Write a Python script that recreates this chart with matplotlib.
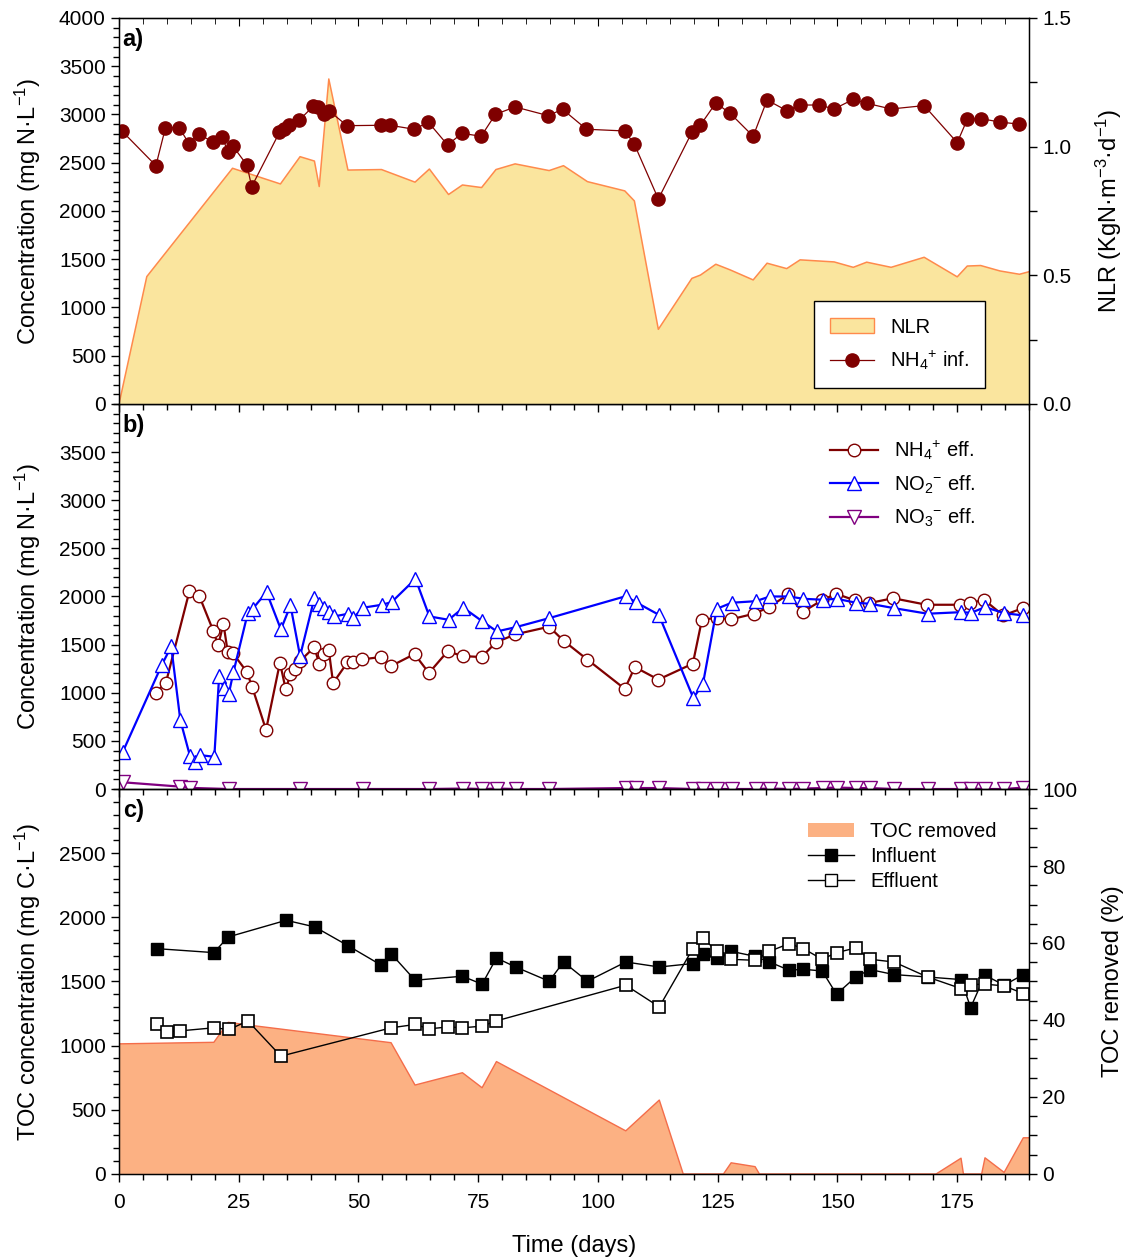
import matplotlib
matplotlib.use("Agg")
import matplotlib.pyplot as plt
from matplotlib.ticker import MultipleLocator, FormatStrFormatter
from matplotlib.patches import Patch
from matplotlib.lines import Line2D

plt.rcParams['font.family'] = ['Liberation Sans', 'DejaVu Sans']
plt.rcParams['mathtext.fontset'] = 'custom'
plt.rcParams['mathtext.rm'] = 'Liberation Sans'
plt.rcParams['mathtext.it'] = 'Liberation Sans:italic'
plt.rcParams['mathtext.bf'] = 'Liberation Sans:bold'

# ---- a) influent ammonium and nitrogen loading rate ----
day_inf = [0.6, 7.7, 9.7, 12.6, 14.6, 16.6, 19.6, 21.6, 22.7, 23.7, 26.7, 27.7, 33.5, 34.5,
           35.5, 37.6, 40.6, 41.6, 42.7, 43.8, 47.6, 54.6, 56.6, 61.6, 64.6, 68.6, 71.6, 75.6,
           78.6, 82.7, 89.6, 92.6, 97.6, 105.6, 107.6, 112.6, 119.6, 121.4, 124.6, 127.6,
           132.4, 135.3, 139.4, 142.2, 146.2, 149.3, 153.3, 156.1, 161.2, 168.1, 175.0,
           177.1, 179.9, 183.9, 188.0]
nh4_inf = [2829, 2470, 2863, 2863, 2697, 2798, 2715, 2763, 2615, 2677, 2477, 2252, 2815, 2847,
           2894, 2940, 3088, 3074, 3002, 3040, 2884, 2888, 2888, 2847, 2919, 2684, 2805, 2774,
           3002, 3078, 2988, 3054, 2847, 2829, 2691, 2124, 2815, 2891, 3119, 3012,
           2774, 3150, 3040, 3098, 3098, 3057, 3157, 3116, 3057, 3092, 2708,
           2950, 2957, 2922, 2899]

day_nlr = [0, 5.8, 23.7, 33.7, 37.8, 40.8, 41.8, 43.8, 47.8, 54.8, 61.8, 64.8, 68.8, 71.7,
           75.7, 78.7, 82.7, 89.8, 92.8, 97.8, 105.6, 107.6, 112.6, 119.6, 121.4, 124.6,
           127.6, 132.4, 135.3, 139.4, 142.2, 149.3, 153.3, 156.1, 161.2, 168.1, 175.0,
           177.1, 179.9, 183.9, 188.0, 190]
nlr = [0, 0.495, 0.916, 0.855, 0.961, 0.944, 0.845, 1.263, 0.909, 0.911, 0.862, 0.913, 0.814,
       0.851, 0.841, 0.911, 0.933, 0.907, 0.926, 0.864, 0.828, 0.789, 0.290, 0.488, 0.501,
       0.543, 0.521, 0.482, 0.547, 0.526, 0.560, 0.552, 0.531, 0.551, 0.531, 0.570, 0.494,
       0.536, 0.538, 0.517, 0.504, 0.514]

# ---- b) effluent nitrogen species ----
day_nh4e = [7.7, 9.8, 14.7, 16.8, 19.7, 20.7, 21.8, 22.7, 23.7, 26.7, 27.8, 30.7, 33.6, 34.8,
            35.8, 36.8, 37.8, 40.8, 41.8, 42.8, 43.8, 44.7, 47.7, 48.8, 50.8, 54.7, 56.7,
            61.7, 64.7, 68.6, 71.8, 75.7, 78.7, 82.7, 89.8, 92.8, 97.8, 105.6, 107.7, 112.6,
            119.8, 121.7, 124.8, 127.7, 132.6, 135.7, 139.7, 142.7, 146.7, 149.7, 153.7,
            156.6, 161.6, 168.6, 175.6, 177.7, 180.6, 184.6, 188.7]
nh4_eff = [1002, 1106, 2055, 2000, 1641, 1492, 1717, 1423, 1416, 1216, 1060, 614, 1313, 1036,
           1192, 1243, 1330, 1475, 1295, 1406, 1440, 1101, 1316, 1316, 1347, 1371, 1275,
           1402, 1205, 1430, 1381, 1371, 1523, 1606, 1686, 1541, 1344, 1040, 1267, 1137,
           1302, 1758, 1779, 1762, 1821, 1889, 2021, 1838, 1959, 2028, 1959,
           1931, 1982, 1914, 1914, 1931, 1966, 1803, 1879]

day_no2 = [0.8, 8.9, 10.9, 12.8, 14.8, 15.9, 16.9, 19.9, 20.9, 21.9, 22.9, 23.9, 26.9, 27.9,
           30.8, 33.8, 35.8, 37.8, 40.8, 41.8, 42.8, 43.8, 44.9, 47.9, 48.9, 50.9, 54.9,
           56.9, 61.9, 64.8, 68.8, 71.9, 75.8, 78.9, 82.9, 89.8, 105.8, 107.9, 112.7, 119.9,
           121.9, 124.8, 127.9, 132.9, 135.9, 139.9, 142.9, 146.9, 149.8, 153.9, 156.8,
           161.8, 168.8, 175.8, 177.9, 180.8, 184.8, 188.8]
no2_eff = [387, 1285, 1482, 715, 345, 277, 352, 335, 1171, 1050, 984, 1216, 1831, 1872,
           2045, 1658, 1907, 1381, 1986, 1924, 1879, 1837, 1793, 1821, 1775, 1883, 1914,
           1941, 2183, 1793, 1758, 1883, 1744, 1637, 1682, 1775, 2003, 1941, 1810, 946,
           1088, 1872, 1935, 1951, 2000, 2000, 1976, 1966, 1976, 1935, 1924,
           1879, 1821, 1837, 1831, 1889, 1827, 1803]

day_no3 = [0.8, 12.7, 14.8, 22.9, 37.8, 50.9, 64.8, 71.9, 75.8, 78.9, 82.9, 89.8, 105.8,
           107.9, 112.7, 119.9, 121.9, 124.8, 127.9, 132.9, 135.9, 139.9, 142.9, 146.9,
           149.8, 153.9, 156.8, 161.8, 168.8, 175.8, 177.9, 180.8, 184.8, 188.8]
no3_eff = [70, 25, 12, 0, 0, 0, 0, 5, 0, 5, 0, 0, 10, 10, 10, 0, 0, 0, 0, 0, 5, 0, 5, 10,
           15, 10, 10, 0, 0, 0, 5, 0, 0, 15]

# ---- c) organic carbon ----
day_toc_in = [7.9, 19.8, 22.8, 34.9, 40.9, 47.9, 54.8, 56.8, 61.8, 71.7, 75.8, 78.8, 82.8,
              89.8, 92.8, 97.8, 105.8, 112.8, 119.8, 121.9, 124.8, 127.8, 132.8, 135.8,
              139.9, 142.9, 146.8, 149.8, 153.8, 156.8, 161.8, 168.8, 175.8, 177.8, 180.8,
              184.8, 188.8]
toc_in = [1756, 1725, 1847, 1977, 1925, 1777, 1626, 1717, 1510, 1541, 1479, 1683, 1613,
          1502, 1652, 1502, 1652, 1613, 1640, 1712, 1686, 1735, 1696, 1652,
          1588, 1595, 1582, 1401, 1535, 1593, 1554, 1535, 1515, 1297, 1549,
          1471, 1554]

day_toc_out = [7.9, 10.0, 12.7, 19.8, 23.0, 26.9, 33.8, 56.8, 61.8, 64.8, 68.7, 71.7, 75.8,
               78.8, 105.8, 112.8, 119.8, 121.9, 124.8, 127.8, 132.8, 135.8, 139.9, 142.9,
               146.8, 149.8, 153.8, 156.8, 161.8, 168.8, 175.8, 177.8, 180.8, 184.8, 188.8]
toc_out = [1165, 1107, 1115, 1139, 1126, 1193, 918, 1139, 1165, 1131, 1146, 1139, 1152,
           1193, 1471, 1302, 1756, 1839, 1735, 1673, 1665, 1735, 1795, 1756,
           1673, 1725, 1761, 1673, 1652, 1535, 1445, 1476, 1479, 1466, 1406]

day_rem = [0, 19.8, 22.8, 26.9, 56.8, 61.8, 71.7, 75.8, 78.8, 105.8, 112.8, 117.8, 126.2,
           127.8, 132.8, 133.7, 170.6, 175.8, 176.3, 180.1, 180.8, 184.8, 188.8, 190]
toc_removed = [33.8, 34.2, 39.4, 38.7, 34.1, 23.1, 26.3, 22.4, 29.2, 11.2, 19.2, 0, 0,
               2.9, 1.9, 0, 0, 4.1, 0, 0, 4.2, 0.4, 9.4, 9.4]

FS_TICK = 15
FS_LABEL = 17
FS_LEG = 14.5

fig = plt.figure(figsize=(11.27, 12.58), dpi=100)
left, width = 0.1056, 0.8075
ax_a = fig.add_axes([left, 0.6789, width, 0.3068])
ax_b = fig.add_axes([left, 0.3728, width, 0.3061])
ax_c = fig.add_axes([left, 0.0668, width, 0.3060])


def style_x(ax, labels):
    ax.set_xlim(0, 190)
    ax.xaxis.set_major_locator(MultipleLocator(25))
    ax.xaxis.set_minor_locator(MultipleLocator(5))
    ax.tick_params(axis='x', which='major', direction='out', length=6, width=1,
                   labelsize=FS_TICK, labelbottom=labels, pad=8)
    ax.tick_params(axis='x', which='minor', direction='out', length=4, width=1)


def style_y(ax):
    ax.tick_params(axis='y', which='major', direction='out', length=6, width=1,
                   labelsize=FS_TICK)
    ax.tick_params(axis='y', which='minor', direction='out', length=4, width=1)


for ax in (ax_a, ax_b, ax_c):
    for s in ax.spines.values():
        s.set_linewidth(1)

# a)
ax_nlr = ax_a.twinx()
ax_a.set_zorder(ax_nlr.get_zorder() + 1)
ax_a.patch.set_visible(False)
ax_nlr.fill_between(day_nlr, nlr, 0, facecolor='#FAE59E', edgecolor='none')
ax_nlr.plot(day_nlr, nlr, color='#FF8A4C', lw=1.1)
ax_nlr.set_ylim(0, 1.5)
ax_nlr.yaxis.set_major_locator(MultipleLocator(0.5))
ax_nlr.yaxis.set_minor_locator(MultipleLocator(0.25))
ax_nlr.yaxis.set_major_formatter(FormatStrFormatter('%.1f'))
ax_nlr.tick_params(axis='y', which='both', direction='out', length=6, width=1,
                   labelsize=FS_TICK)
ax_nlr.set_ylabel('NLR (KgN·m$^{-3}$·d$^{-1}$)', fontsize=FS_LABEL, labelpad=16)

ax_a.plot(day_inf, nh4_inf, color='#7F0000', lw=0.9, marker='o', ms=9.5,
          mfc='#7F0000', mec='#7F0000')
ax_a.set_ylim(0, 4000)
ax_a.yaxis.set_major_locator(MultipleLocator(500))
ax_a.yaxis.set_minor_locator(MultipleLocator(100))
style_y(ax_a)
style_x(ax_a, False)
top = ax_a.secondary_xaxis('top')
top.xaxis.set_major_locator(MultipleLocator(25))
top.xaxis.set_minor_locator(MultipleLocator(5))
top.tick_params(axis='x', which='major', direction='in', length=6, labeltop=False)
top.tick_params(axis='x', which='minor', direction='in', length=4)
ax_a.set_ylabel('Concentration (mg N·L$^{-1}$)', fontsize=FS_LABEL)
ax_a.text(0.004, 0.974, 'a)', transform=ax_a.transAxes, ha='left', va='top',
          fontsize=17, fontweight='bold')
leg_a = ax_a.legend([Patch(facecolor='#FAE59E', edgecolor='#FF8A4C', lw=1),
                     Line2D([], [], color='#7F0000', lw=0.9, marker='o', ms=9.5)],
                    ['NLR', 'NH$_4$$^{+}$ inf.'],
                    loc='lower right', bbox_to_anchor=(0.952, 0.041), fontsize=FS_LEG,
                    frameon=True, fancybox=False, edgecolor='black', framealpha=1,
                    handlelength=2.2, borderpad=0.8, labelspacing=0.6, borderaxespad=0)
leg_a.get_frame().set_linewidth(1)

# b)
ax_b.plot(day_nh4e, nh4_eff, color='#7F0000', lw=1.6, marker='o', ms=9,
          mfc='white', mec='#7F0000', mew=1, label='NH$_4$$^{+}$ eff.')
ax_b.plot(day_no2, no2_eff, color='#0000FF', lw=1.6, marker='^', ms=10,
          mfc='white', mec='#0000FF', mew=1, label='NO$_2$$^{-}$ eff.')
ax_b.plot(day_no3, no3_eff, color='#800080', lw=1.6, marker='v', ms=10,
          mfc='white', mec='#800080', mew=1, label='NO$_3$$^{-}$ eff.')
ax_b.set_ylim(0, 4000)
ax_b.set_yticks(range(0, 3501, 500))
ax_b.yaxis.set_minor_locator(MultipleLocator(100))
style_y(ax_b)
style_x(ax_b, False)
ax_b.set_ylabel('Concentration (mg N·L$^{-1}$)', fontsize=FS_LABEL)
ax_b.text(0.004, 0.974, 'b)', transform=ax_b.transAxes, ha='left', va='top',
          fontsize=17, fontweight='bold')
ax_b.legend(loc='upper left', bbox_to_anchor=(0.772, 0.93), fontsize=FS_LEG,
            frameon=False, handlelength=2.4, labelspacing=0.55, borderaxespad=0)

# c)
ax_rem = ax_c.twinx()
ax_c.set_zorder(ax_rem.get_zorder() + 1)
ax_c.patch.set_visible(False)
ax_rem.fill_between(day_rem, toc_removed, 0, facecolor='#FCB183', edgecolor='none')
ax_rem.plot(day_rem, toc_removed, color='#F46D4A', lw=1)
ax_rem.set_ylim(0, 100)
ax_rem.yaxis.set_major_locator(MultipleLocator(20))
ax_rem.yaxis.set_minor_locator(MultipleLocator(5))
ax_rem.tick_params(axis='y', which='both', direction='out', length=6, width=1,
                   labelsize=FS_TICK)
ax_rem.set_ylabel('TOC removed (%)', fontsize=FS_LABEL, labelpad=18)

ax_c.plot(day_toc_in, toc_in, color='black', lw=1, marker='s', ms=9,
          mfc='black', mec='black')
ax_c.plot(day_toc_out, toc_out, color='black', lw=1, marker='s', ms=9,
          mfc='white', mec='black', mew=1.2)
ax_c.set_ylim(0, 3000)
ax_c.set_yticks(range(0, 2501, 500))
ax_c.yaxis.set_minor_locator(MultipleLocator(100))
style_y(ax_c)
style_x(ax_c, True)
ax_c.set_ylabel('TOC concentration (mg C·L$^{-1}$)', fontsize=FS_LABEL)
ax_c.set_xlabel('Time (days)', fontsize=FS_LABEL, labelpad=16)
ax_c.text(0.004, 0.974, 'c)', transform=ax_c.transAxes, ha='left', va='top',
          fontsize=17, fontweight='bold')
ax_c.legend([Patch(facecolor='#FCB183', edgecolor='none'),
             Line2D([], [], color='black', lw=1, marker='s', ms=9, mfc='black'),
             Line2D([], [], color='black', lw=1, marker='s', ms=9, mfc='white')],
            ['TOC removed', 'Influent', 'Effluent'],
            loc='upper left', bbox_to_anchor=(0.748, 0.935), fontsize=FS_LEG,
            frameon=False, handlelength=2.3, labelspacing=0.3, borderaxespad=0)

for ax in (ax_a, ax_b, ax_c):
    ax.yaxis.set_label_coords(-0.083, 0.5)

fig.savefig('out.png', dpi=100)
